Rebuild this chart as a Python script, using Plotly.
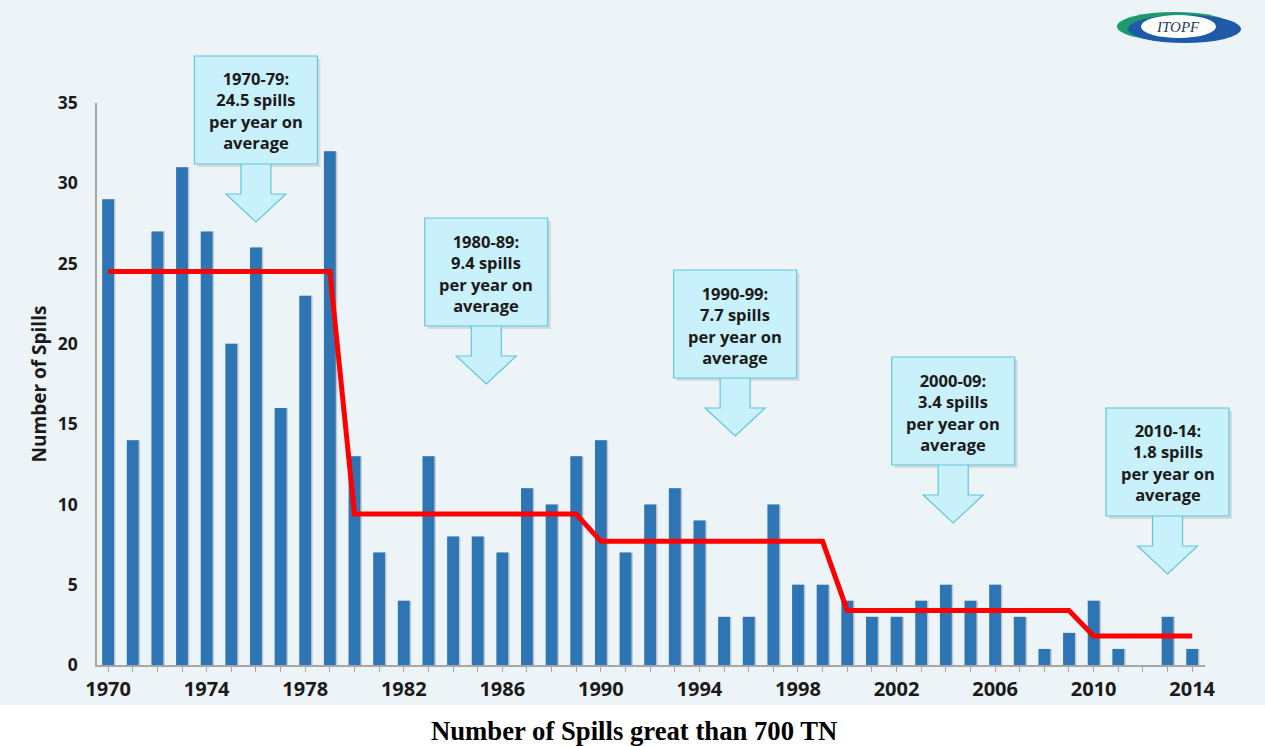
import plotly.graph_objects as go

# Tanker spills over 700 tonnes, per year
years = list(range(1970, 2015))
spills = [29, 14, 27, 31, 27, 20, 26, 16, 23, 32,
          13, 7, 4, 13, 8, 8, 7, 11, 10, 13,
          14, 7, 10, 11, 9, 3, 3, 10, 5, 5,
          4, 3, 3, 4, 5, 4, 5, 3, 1, 2,
          4, 1, 0, 3, 1]

# Period averages (spills per year)
periods = ["1970-79", "1980-89", "1990-99", "2000-09", "2010-14"]
period_start = [1970, 1980, 1990, 2000, 2010]
period_end = [1979, 1989, 1999, 2009, 2014]
period_avg = [24.5, 9.4, 7.7, 3.4, 1.8]

# Callout placement: year under the arrow tip, box top (px from page top)
callout_year = [1976.0, 1985.35, 1995.45, 2004.3, 2013.0]
callout_top = [56, 218, 270, 357, 408]

x_ticks = [1970, 1974, 1978, 1982, 1986, 1990, 1994, 1998, 2002, 2006, 2010, 2014]
y_ticks = [0, 5, 10, 15, 20, 25, 30, 35]

W, H = 1265, 746
ML, MR, MT, MB = 97, 60, 103, 81
XR = [1969.55, 2014.52]
YR = [0, 35]
PW = W - ML - MR
PH = H - MT - MB

BG = "#edf4f7"
BAR = "#2e75b6"
FONT = "Open Sans"


def px(x):
    return (x - ML) / PW


def py(y):
    return (H - MB - y) / PH


def year_px(yr):
    return ML + (yr - XR[0]) / (XR[1] - XR[0]) * PW


# step line of period averages, one point per year
avg_line = []
for yr in years:
    for s, e, a in zip(period_start, period_end, period_avg):
        if s <= yr <= e:
            avg_line.append(a)

fig = go.Figure()

# soft shadow to the right of each bar
fig.add_trace(go.Bar(
    x=years, y=spills, width=0.5, offset=-0.2,
    marker=dict(color="rgba(40,40,40,0.22)", line=dict(width=0)),
    hoverinfo="skip", showlegend=False,
))
fig.add_trace(go.Bar(
    x=years, y=spills, width=0.48, offset=-0.24,
    marker=dict(color=BAR, line=dict(width=0)),
    showlegend=False, name="Spills",
))
fig.add_trace(go.Scatter(
    x=years, y=avg_line, mode="lines",
    line=dict(color="#ff0000", width=5),
    showlegend=False, name="Average",
))

shapes = []
annotations = []

# page background panel
shapes.append(dict(type="rect", xref="paper", yref="paper",
                   x0=px(0), x1=px(W), y0=py(705), y1=py(0),
                   fillcolor=BG, line=dict(width=0), layer="below"))

# callouts: box + down arrow
BOX_W, BOX_H = 123, 108
SHAFT_W, SHAFT_L = 30, 30
HEAD_W, HEAD_H = 60, 28
BOX_FILL = "#c9f1fb"
BOX_LINE = "#62c6de"
for label, avg, yr, top in zip(periods, period_avg, callout_year, callout_top):
    cx = year_px(yr)
    bottom = top + BOX_H
    # shadow
    shapes.append(dict(type="rect", xref="paper", yref="paper",
                       x0=px(cx - BOX_W / 2 + 3), x1=px(cx + BOX_W / 2 + 3),
                       y0=py(bottom + 3), y1=py(top + 3),
                       fillcolor="rgba(0,0,0,0.10)", line=dict(width=0)))
    pts = [
        (cx - SHAFT_W / 2, bottom - 1),
        (cx - SHAFT_W / 2, bottom + SHAFT_L),
        (cx - HEAD_W / 2, bottom + SHAFT_L),
        (cx, bottom + SHAFT_L + HEAD_H),
        (cx + HEAD_W / 2, bottom + SHAFT_L),
        (cx + SHAFT_W / 2, bottom + SHAFT_L),
        (cx + SHAFT_W / 2, bottom - 1),
    ]
    path = "M " + " L ".join(f"{px(a):.5f},{py(b):.5f}" for a, b in pts) + " Z"
    shapes.append(dict(type="path", xref="paper", yref="paper", path=path,
                       fillcolor=BOX_FILL, line=dict(color=BOX_LINE, width=1.2)))
    shapes.append(dict(type="rect", xref="paper", yref="paper",
                       x0=px(cx - BOX_W / 2), x1=px(cx + BOX_W / 2),
                       y0=py(bottom), y1=py(top),
                       fillcolor=BOX_FILL, line=dict(color=BOX_LINE, width=1.2)))
    annotations.append(dict(
        xref="paper", yref="paper", x=px(cx), y=py(top + BOX_H / 2 + 1),
        text=f"<b>{label}:<br>{avg} spills<br>per year on<br>average</b>",
        showarrow=False, xanchor="center", yanchor="middle", align="center",
        font=dict(family=FONT, size=16.5, color="#1a1a1a"),
    ))

# ITOPF logo
shapes.append(dict(type="circle", xref="paper", yref="paper",
                   x0=px(1117), x1=px(1232), y0=py(41), y1=py(12),
                   fillcolor="#1d9a6c", line=dict(width=0)))
shapes.append(dict(type="circle", xref="paper", yref="paper",
                   x0=px(1128), x1=px(1241), y0=py(43), y1=py(15),
                   fillcolor="#1f5aa8", line=dict(width=0)))
shapes.append(dict(type="circle", xref="paper", yref="paper",
                   x0=px(1141), x1=px(1216), y0=py(38), y1=py(15),
                   fillcolor="white", line=dict(width=0)))
annotations.append(dict(
    xref="paper", yref="paper", x=px(1178), y=py(27),
    text="<i>ITOPF</i>", showarrow=False, xanchor="center", yanchor="middle",
    font=dict(family="Liberation Serif", size=15, color="#2b3a5c"),
))

# caption
annotations.append(dict(
    xref="paper", yref="paper", x=px(634), y=py(731),
    text="<b>Number of Spills great than 700 TN</b>", showarrow=False,
    xanchor="center", yanchor="middle",
    font=dict(family="Liberation Serif", size=26.7, color="black"),
))

fig.update_layout(
    width=W, height=H,
    margin=dict(l=ML, r=MR, t=MT, b=MB),
    paper_bgcolor="white", plot_bgcolor="rgba(0,0,0,0)",
    barmode="overlay",
    shapes=shapes, annotations=annotations,
    xaxis=dict(
        range=XR, tickmode="array", tickvals=x_ticks,
        ticktext=[f"<b>{t}</b>" for t in x_ticks],
        ticks="outside", ticklen=5, tickcolor="#a6a6a6",
        minor=dict(dtick=1, tick0=1970, ticks="outside", ticklen=5, tickcolor="#a6a6a6"),
        showgrid=False, zeroline=False,
        showline=True, linecolor="#a6a6a6", linewidth=1.5,
        tickfont=dict(family=FONT, size=20, color="#1a1a1a"),
        ticklabelstandoff=0,
    ),
    yaxis=dict(
        range=YR, tickmode="array", tickvals=y_ticks,
        ticktext=[f"<b>{t}</b>" for t in y_ticks],
        ticks="", showgrid=False, zeroline=False,
        showline=True, linecolor="#a6a6a6", linewidth=1.5,
        tickfont=dict(family=FONT, size=17.5, color="#1a1a1a"),
        ticklabelstandoff=14,
        title=dict(text="<b>Number of Spills</b>", standoff=6,
                   font=dict(family=FONT, size=19, color="#1a1a1a")),
    ),
)

fig.write_html("out.html")
